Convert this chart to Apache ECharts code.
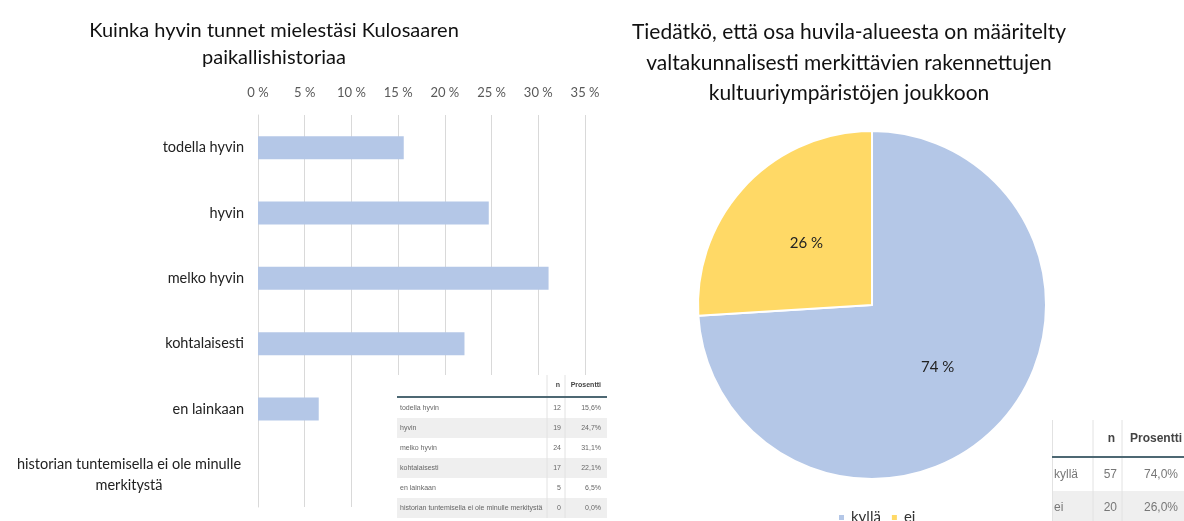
<!DOCTYPE html>
<html>
<head>
<meta charset="utf-8">
<script src="https://cdn.jsdelivr.net/npm/echarts@6/dist/echarts.min.js"></script>
<style>html,body{margin:0;padding:0;background:#fff}#c{width:1184px;height:521px}</style>
</head>
<body>
<div id="c"></div>
<script>
// ---- data ----
var barCategories = ['todella hyvin', 'hyvin', 'melko hyvin', 'kohtalaisesti', 'en lainkaan', 'historian tuntemisella ei ole minulle merkitystä'];
var barCounts = [12, 19, 24, 17, 5, 0];
var barPercents = [15.6, 24.7, 31.1, 22.1, 6.5, 0.0];
var xTicks = [0, 5, 10, 15, 20, 25, 30, 35];

var pieCategories = ['kyllä', 'ei'];
var pieCounts = [57, 20];
var piePercents = [74.0, 26.0];

var leftTitle = 'Kuinka hyvin tunnet mielestäsi Kulosaaren\npaikallishistoriaa';
var rightTitle = 'Tiedätkö, että osa huvila-alueesta on määritelty\nvaltakunnalisesti merkittävien rakennettujen\nkultuuriympäristöjen joukkoon';
var tableHeaders = ['n', 'Prosentti'];

function fmtPct(v) { return v.toFixed(1).replace('.', ',') + '%'; }

var FONT = 'Lato';
var TFONT = 'Liberation Sans';

// ---- tables as graphic elements ----
var g = [];
// table 1
(function () {
  var x0 = 397, x1 = 607, top = 375, headH = 21, rowH = 20;
  var sep1 = 547, sep2 = 565;
  var bottom = top + headH + 2 + rowH * barCategories.length;
  g.push({type: 'rect', shape: {x: x0, y: top, width: x1 - x0, height: bottom - top}, style: {fill: '#fff'}, z: 100});
  for (var i = 0; i < barCategories.length; i++) {
    var y = top + headH + 2 + i * rowH;
    if (i % 2 === 1) g.push({type: 'rect', shape: {x: x0, y: y, width: x1 - x0, height: rowH}, style: {fill: '#efefef'}, z: 101});
    g.push({type: 'text', x: x0 + 3, y: y + rowH / 2, style: {text: barCategories[i], font: '7px ' + TFONT, fill: '#666', textVerticalAlign: 'middle'}, z: 103});
    g.push({type: 'text', x: sep2 - 4, y: y + rowH / 2, style: {text: String(barCounts[i]), font: '7px ' + TFONT, fill: '#666', textAlign: 'right', textVerticalAlign: 'middle'}, z: 103});
    g.push({type: 'text', x: x1 - 6, y: y + rowH / 2, style: {text: fmtPct(barPercents[i]), font: '7px ' + TFONT, fill: '#666', textAlign: 'right', textVerticalAlign: 'middle'}, z: 103});
  }
  g.push({type: 'line', shape: {x1: sep1, y1: top, x2: sep1, y2: bottom}, style: {stroke: '#e2e2e2', lineWidth: 1}, z: 102});
  g.push({type: 'line', shape: {x1: sep2, y1: top, x2: sep2, y2: bottom}, style: {stroke: '#e2e2e2', lineWidth: 1}, z: 102});
  g.push({type: 'rect', shape: {x: x0, y: top + headH, width: x1 - x0, height: 2}, style: {fill: '#4d6873'}, z: 104});
  g.push({type: 'text', x: (sep1 + sep2) / 2 + 2, y: top + headH / 2, style: {text: tableHeaders[0], font: 'bold 7px ' + TFONT, fill: '#444', textAlign: 'center', textVerticalAlign: 'middle'}, z: 103});
  g.push({type: 'text', x: x1 - 6, y: top + headH / 2, style: {text: tableHeaders[1], font: 'bold 7px ' + TFONT, fill: '#444', textAlign: 'right', textVerticalAlign: 'middle'}, z: 103});
})();
// table 2
(function () {
  var x0 = 1052, x1 = 1184, top = 420, headH = 36, rowH = 33;
  var sep1 = 1093, sep2 = 1122;
  var bottom = 523;
  g.push({type: 'rect', shape: {x: x0, y: top, width: x1 - x0, height: bottom - top}, style: {fill: '#fff'}, z: 100});
  for (var i = 0; i < pieCategories.length; i++) {
    var y = top + headH + 2 + i * rowH;
    if (i % 2 === 1) g.push({type: 'rect', shape: {x: x0, y: y, width: x1 - x0, height: bottom - y}, style: {fill: '#efefef'}, z: 101});
    g.push({type: 'text', x: x0 + 2, y: y + rowH / 2, style: {text: pieCategories[i], font: '12px ' + TFONT, fill: '#777', textVerticalAlign: 'middle'}, z: 103});
    g.push({type: 'text', x: sep2 - 5, y: y + rowH / 2, style: {text: String(pieCounts[i]), font: '12px ' + TFONT, fill: '#777', textAlign: 'right', textVerticalAlign: 'middle'}, z: 103});
    g.push({type: 'text', x: 1178, y: y + rowH / 2, style: {text: fmtPct(piePercents[i]), font: '12px ' + TFONT, fill: '#777', textAlign: 'right', textVerticalAlign: 'middle'}, z: 103});
  }
  g.push({type: 'line', shape: {x1: x0 + 0.5, y1: top, x2: x0 + 0.5, y2: bottom}, style: {stroke: '#e2e2e2', lineWidth: 1}, z: 102});
  g.push({type: 'line', shape: {x1: sep1, y1: top, x2: sep1, y2: bottom}, style: {stroke: '#e2e2e2', lineWidth: 1}, z: 102});
  g.push({type: 'line', shape: {x1: sep2, y1: top, x2: sep2, y2: bottom}, style: {stroke: '#e2e2e2', lineWidth: 1}, z: 102});
  g.push({type: 'rect', shape: {x: x0, y: top + headH, width: x1 - x0, height: 2}, style: {fill: '#4d6873'}, z: 104});
  g.push({type: 'text', x: (sep1 + sep2) / 2 + 4, y: top + headH / 2 + 1, style: {text: tableHeaders[0], font: 'bold 12px ' + TFONT, fill: '#444', textAlign: 'center', textVerticalAlign: 'middle'}, z: 103});
  g.push({type: 'text', x: 1130, y: top + headH / 2 + 1, style: {text: tableHeaders[1], font: 'bold 12px ' + TFONT, fill: '#444', textAlign: 'left', textVerticalAlign: 'middle'}, z: 103});
})();

var chart = echarts.init(document.getElementById('c'));
chart.setOption({
  animation: false,
  backgroundColor: '#fff',
  title: [
    {text: leftTitle, left: 269, top: 12, textAlign: 'center',
     textStyle: {fontFamily: FONT, fontSize: 20, fontWeight: 'normal', color: '#111', lineHeight: 27, align: 'center'}},
    {text: rightTitle, left: 844, top: 12, textAlign: 'center',
     textStyle: {fontFamily: FONT, fontSize: 21, fontWeight: 'normal', color: '#111', lineHeight: 30.5, align: 'center'}}
  ],
  legend: {
    data: pieCategories, left: 832, top: 505, itemWidth: 7, itemHeight: 7, itemGap: 9, icon: 'rect',
    textStyle: {fontFamily: FONT, fontSize: 15, color: '#333', padding: [0, 0, 0, 1]}
  },
  grid: {left: 258, top: 115, width: 327, height: 392, containLabel: false},
  xAxis: {
    type: 'value', position: 'top', min: xTicks[0], max: xTicks[xTicks.length - 1], interval: 5,
    axisLine: {show: false}, axisTick: {show: false},
    splitLine: {show: true, lineStyle: {color: '#d9d9d9', width: 1}},
    axisLabel: {formatter: '{value} %', fontFamily: FONT, fontSize: 13, color: '#595959', margin: 16}
  },
  yAxis: {
    type: 'category', inverse: true, data: barCategories,
    axisLine: {show: true, lineStyle: {color: '#d9d9d9'}}, axisTick: {show: false},
    axisLabel: {
      fontFamily: FONT, fontSize: 14.5, color: '#222', margin: 14,
      formatter: function (v) {
        if (v.length > 30) {
          var parts = v.split(' ');
          var l1 = parts.slice(0, 5).join(' '), l2 = parts.slice(5).join(' ');
          return '{w|' + l1 + '}\n{w|' + l2 + '}';
        }
        return v;
      },
      rich: {w: {width: 230, align: 'center', fontFamily: FONT, fontSize: 14.5, color: '#222', lineHeight: 21}}
    }
  },
  series: [
    {
      type: 'bar', data: barPercents, barWidth: 23,
      itemStyle: {color: '#b4c7e7'}, silent: true
    },
    {
      type: 'pie', center: [872, 305], radius: 174, startAngle: 90, clockwise: true,
      data: pieCategories.map(function (n, i) { return {name: n, value: pieCounts[i]}; }),
      color: ['#b4c7e7', '#ffd966'],
      itemStyle: {borderColor: '#fff', borderWidth: 2},
      label: {position: 'inside', fontFamily: FONT, fontSize: 15, color: '#222',
        formatter: function (p) { return Math.round(p.percent) + ' %'; }},
      labelLine: {show: false}, silent: true
    }
  ],
  graphic: {elements: g}
});
</script>
</body>
</html>
